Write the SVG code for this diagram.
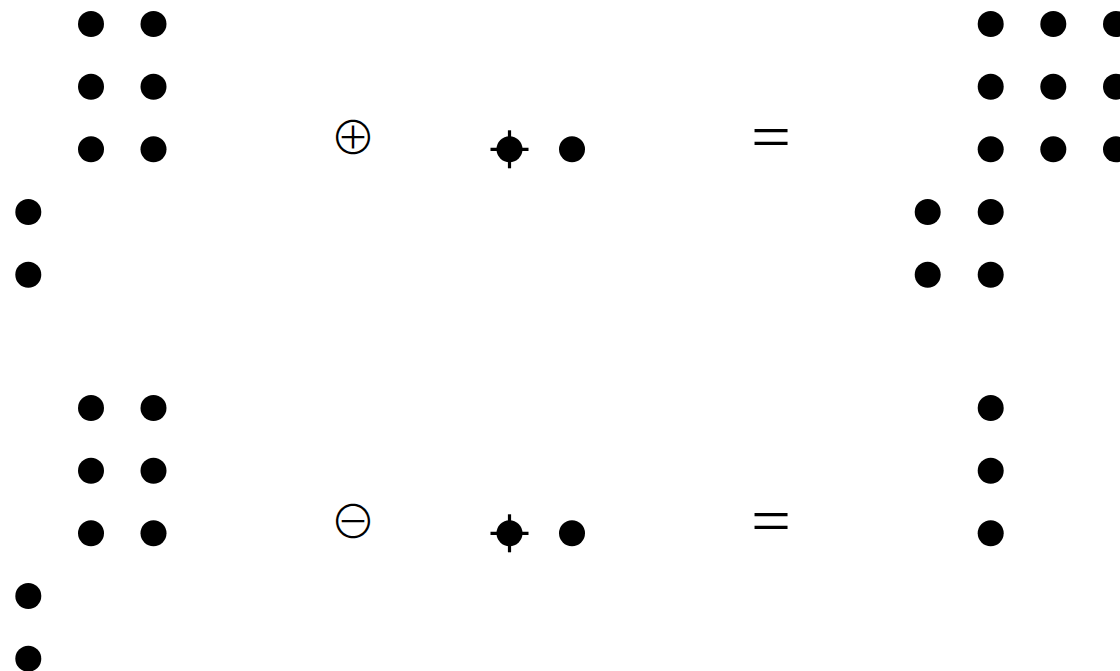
<svg xmlns="http://www.w3.org/2000/svg" xmlns:xlink="http://www.w3.org/1999/xlink" width="1120" height="671" viewBox="0 0 1120 671">
<style>
.d{fill:#000}
.x{stroke:#000;stroke-width:3.2}
.op{font-family:"Noto Sans CJK JP","DejaVu Sans",sans-serif;font-weight:200;font-size:46px;fill:#000;text-anchor:middle}
.eq{font-family:"Liberation Serif",serif;font-size:64px;fill:#000;text-anchor:middle}
</style>
<defs>
<circle id="dot" r="13" class="d"/>
<g id="cross"><circle r="13" class="d"/><line x1="-19" y1="0" x2="19" y2="0" class="x"/><line x1="0" y1="-19" x2="0" y2="19" class="x"/></g>
</defs>
<rect width="1120" height="671" fill="#fff"/>
<g id="top-left">
<use xlink:href="#dot" x="91" y="24"/><use xlink:href="#dot" x="153.5" y="24"/>
<use xlink:href="#dot" x="91" y="86.7"/><use xlink:href="#dot" x="153.5" y="86.7"/>
<use xlink:href="#dot" x="91" y="149.3"/><use xlink:href="#dot" x="153.5" y="149.3"/>
<use xlink:href="#dot" x="28.3" y="212"/>
<use xlink:href="#dot" x="28.3" y="274.7"/>
</g>
<g id="top-op"><text class="op" x="353" y="153.5">⊕</text></g>
<g id="top-mid">
<use xlink:href="#cross" x="509.5" y="149.3"/>
<use xlink:href="#dot" x="572" y="149.3"/>
</g>
<g id="top-eq"><text class="eq" x="771" y="157.5" textLength="40" lengthAdjust="spacingAndGlyphs">=</text></g>
<g id="top-right">
<use xlink:href="#dot" x="990.7" y="24"/><use xlink:href="#dot" x="1053.3" y="24"/><use xlink:href="#dot" x="1116" y="24"/>
<use xlink:href="#dot" x="990.7" y="86.7"/><use xlink:href="#dot" x="1053.3" y="86.7"/><use xlink:href="#dot" x="1116" y="86.7"/>
<use xlink:href="#dot" x="990.7" y="149.3"/><use xlink:href="#dot" x="1053.3" y="149.3"/><use xlink:href="#dot" x="1116" y="149.3"/>
<use xlink:href="#dot" x="927.7" y="212"/><use xlink:href="#dot" x="990.7" y="212"/>
<use xlink:href="#dot" x="927.7" y="274.7"/><use xlink:href="#dot" x="990.7" y="274.7"/>
</g>
<g id="bottom-left">
<use xlink:href="#dot" x="91" y="408"/><use xlink:href="#dot" x="153.5" y="408"/>
<use xlink:href="#dot" x="91" y="470.7"/><use xlink:href="#dot" x="153.5" y="470.7"/>
<use xlink:href="#dot" x="91" y="533.3"/><use xlink:href="#dot" x="153.5" y="533.3"/>
<use xlink:href="#dot" x="28.3" y="596"/>
<use xlink:href="#dot" x="28.3" y="658.7"/>
</g>
<g id="bottom-op"><text class="op" x="353" y="537.5">⊖</text></g>
<g id="bottom-mid">
<use xlink:href="#cross" x="509.5" y="533.3"/>
<use xlink:href="#dot" x="572" y="533.3"/>
</g>
<g id="bottom-eq"><text class="eq" x="771" y="541.5" textLength="40" lengthAdjust="spacingAndGlyphs">=</text></g>
<g id="bottom-right">
<use xlink:href="#dot" x="990.7" y="408"/>
<use xlink:href="#dot" x="990.7" y="470.7"/>
<use xlink:href="#dot" x="990.7" y="533.3"/>
</g>
<g id="connectors"/>
</svg>
